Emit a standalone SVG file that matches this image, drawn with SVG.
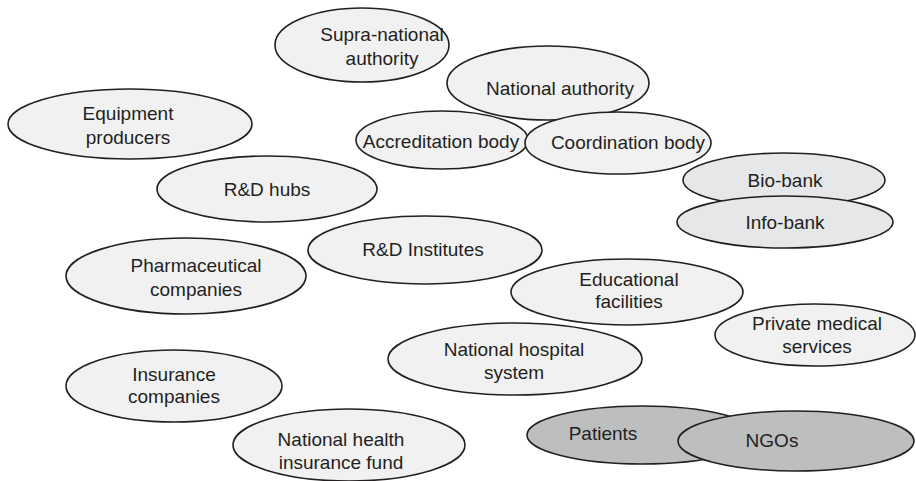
<svg xmlns="http://www.w3.org/2000/svg" width="916" height="481" viewBox="0 0 916 481">
<style>
ellipse{stroke:#231f20;stroke-width:1.6}
.l{fill:#f1f1f2}
.m{fill:#e6e7e8}
.d{fill:#bcbec0}
text{font-family:"Liberation Sans",Arial,sans-serif;font-size:19px;fill:#231f20;text-anchor:middle;dominant-baseline:central}
</style>
<rect width="916" height="481" fill="#fff"/>
<g id="connectors"/>
<g id="supra"><ellipse class="l" cx="362" cy="45" rx="87" ry="37"/><text x="382" y="34">Supra-national</text><text x="382" y="58">authority</text></g>
<g id="national-authority"><ellipse class="l" cx="548" cy="83" rx="101" ry="37"/><text x="560" y="88">National authority</text></g>
<g id="equipment"><ellipse class="l" cx="130" cy="124" rx="122" ry="35"/><text x="128" y="113">Equipment</text><text x="128" y="137">producers</text></g>
<g id="accreditation"><ellipse class="l" cx="442" cy="140" rx="86" ry="29"/><text x="441" y="141">Accreditation body</text></g>
<g id="biobank"><ellipse class="m" cx="784" cy="180" rx="101" ry="27"/><text x="785" y="180">Bio-bank</text></g>
<g id="coordination"><ellipse class="l" cx="618" cy="143" rx="93" ry="31"/><text x="628" y="142">Coordination body</text></g>
<g id="infobank"><ellipse class="m" cx="785" cy="222" rx="108" ry="26"/><text x="785" y="222">Info-bank</text></g>
<g id="rd-hubs"><ellipse class="l" cx="267" cy="189" rx="110" ry="33"/><text x="267" y="189">R&amp;D hubs</text></g>
<g id="rd-institutes"><ellipse class="l" cx="425" cy="250" rx="117" ry="34"/><text x="423" y="249">R&amp;D Institutes</text></g>
<g id="pharma"><ellipse class="l" cx="186" cy="276" rx="120" ry="38"/><text x="196" y="265">Pharmaceutical</text><text x="196" y="289">companies</text></g>
<g id="educational"><ellipse class="l" cx="627" cy="292" rx="116" ry="33"/><text x="629" y="279">Educational</text><text x="629" y="301">facilities</text></g>
<g id="private"><ellipse class="l" cx="815" cy="335" rx="100" ry="31"/><text x="817" y="323">Private medical</text><text x="817" y="346">services</text></g>
<g id="hospital"><ellipse class="l" cx="515" cy="359" rx="127" ry="36"/><text x="514" y="349">National hospital</text><text x="514" y="372">system</text></g>
<g id="insurance"><ellipse class="l" cx="174" cy="386" rx="108" ry="36"/><text x="174" y="374">Insurance</text><text x="174" y="396">companies</text></g>
<g id="nhif"><ellipse class="l" cx="349" cy="445" rx="116" ry="36"/><text x="341" y="439">National health</text><text x="341" y="462">insurance fund</text></g>
<g id="patients"><ellipse class="d" cx="642" cy="435" rx="115" ry="29"/><text x="603" y="433">Patients</text></g>
<g id="ngos"><ellipse class="d" cx="796" cy="441" rx="118" ry="30"/><text x="772" y="440">NGOs</text></g>
</svg>
